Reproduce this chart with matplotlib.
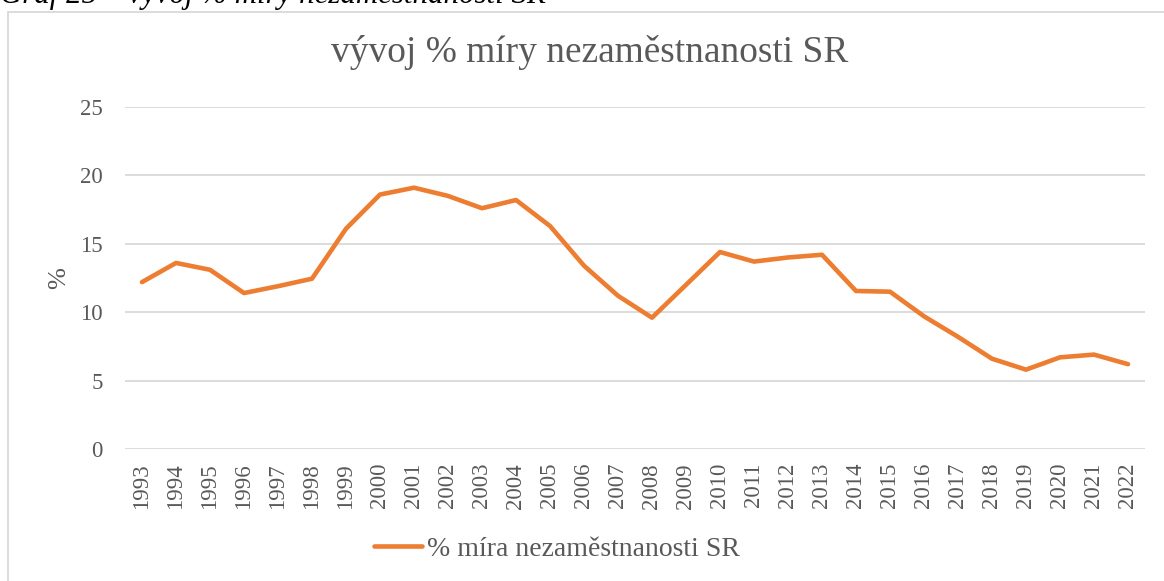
import matplotlib
matplotlib.use("Agg")
import matplotlib.pyplot as plt
from matplotlib.patches import Rectangle

years = [str(y) for y in range(1993, 2023)]
unemployment = [12.2, 13.6, 13.1, 11.4, 11.9, 12.45, 16.1, 18.6, 19.1, 18.5,
                17.6, 18.2, 16.3, 13.4, 11.2, 9.6, 12.0, 14.4, 13.7, 14.0,
                14.2, 11.55, 11.5, 9.7, 8.2, 6.6, 5.8, 6.7, 6.9, 6.2]
yticks = [0, 5, 10, 15, 20, 25]

title = "vývoj % míry nezaměstnanosti SR"
caption = "Graf 25 – vývoj % míry nezaměstnanosti SR"
series_name = "% míra nezaměstnanosti SR"

W, H = 1164, 581
plt.rcParams['font.family'] = ['Liberation Serif', 'DejaVu Serif']
fig = plt.figure(figsize=(W / 100, H / 100), dpi=100)
fig.patch.set_facecolor('white')

# chart area border
fig.patches.append(Rectangle((8 / W, -0.1), 1.2, 1 - 12 / H + 0.1, transform=fig.transFigure,
                             fill=False, edgecolor='#d9d9d9', linewidth=1.3))

# caption (cut at top)
fig.text(0.0, 1 - 3 / H, caption, fontsize=22.2, style='italic', color='black',
         ha='left', va='baseline')

ax = fig.add_axes([125 / W, 1 - 449 / H, (1145 - 125) / W, (449 - 107) / H])
x = list(range(len(years)))
ax.plot(x, unemployment, color='#ED7D31', linewidth=3.3, solid_joinstyle='round',
        solid_capstyle='round', label=series_name)
ax.set_xlim(-0.5, len(years) - 0.5)
ax.set_ylim(0, 25)
ax.set_yticks(yticks)
ax.set_xticks(x)
ax.set_xticklabels(years, rotation=90)
ax.grid(axis='y', color='#d9d9d9', linewidth=1.3)
ax.set_axisbelow(True)
for s in ax.spines.values():
    s.set_visible(False)
ax.tick_params(axis='both', length=0, labelsize=16.5, labelcolor='#595959')
ax.tick_params(axis='y', pad=16)
ax.tick_params(axis='x', pad=10)
ax.set_ylabel('%', fontsize=19, color='#595959')
ax.yaxis.set_label_coords(-0.054, 0.5)

fig.text(590 / W, 1 - 53 / H, title, fontsize=26.9, color='#595959', ha='center', va='center')

fig.legend(loc='center', bbox_to_anchor=(557 / W, 1 - 549 / H), frameon=False,
           fontsize=20, handlelength=1.73, handletextpad=0.2, labelcolor='#595959')

fig.savefig('out.png', dpi=100, facecolor='white')
